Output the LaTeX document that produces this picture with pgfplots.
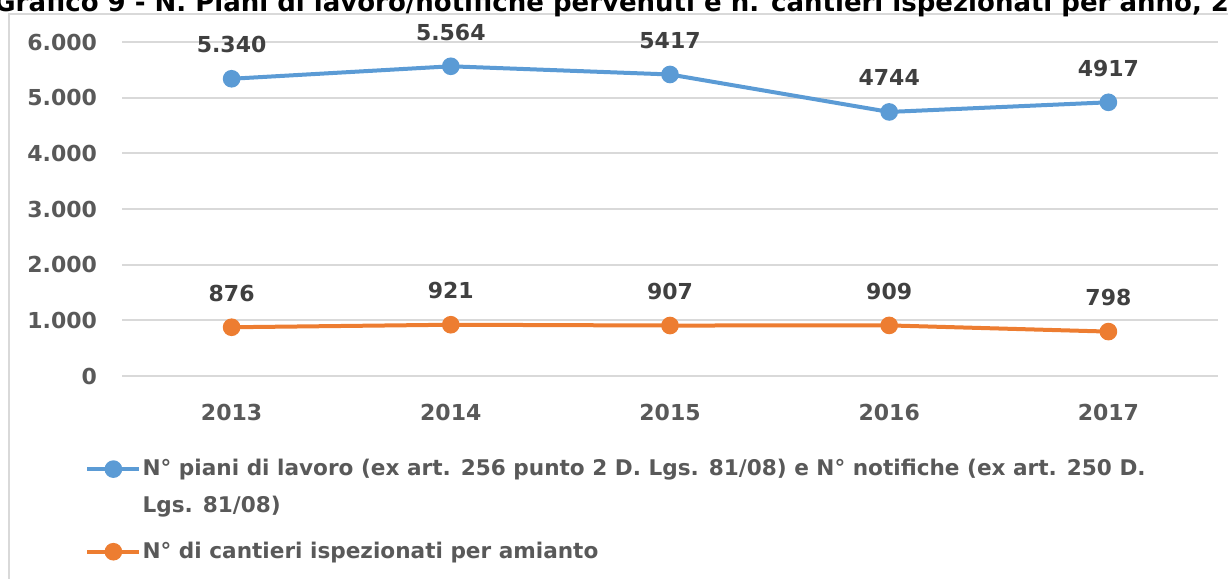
\documentclass[border=0pt]{standalone}
\usepackage{pgfplots}
\pgfplotsset{compat=1.18}
\usepackage{fontspec}
\setmainfont{DejaVu Sans}
\definecolor{sblue}{HTML}{5B9BD5}
\definecolor{sorange}{HTML}{ED7D31}
\definecolor{gridgray}{HTML}{D9D9D9}
\definecolor{tickgray}{HTML}{595959}
\definecolor{labgray}{HTML}{404040}
\begin{document}
\begin{tikzpicture}
\useasboundingbox (0,0) rectangle (614pt,-289.5pt);
\draw[gridgray, line width=0.8pt] (4.5pt,-7pt) rectangle (640pt,-320pt);
\node[anchor=base west, inner sep=0pt, font=\bfseries\fontsize{13}{15}\selectfont] at (-3pt,-5.5pt)
  {Grafico 9 - N. Piani di lavoro/notifiche pervenuti e n. cantieri ispezionati per anno, 2013-2017};
\begin{axis}[
  at={(61pt,-188pt)}, anchor=south west,
  scale only axis, width=548pt, height=167pt,
  xmin=-0.5, xmax=4.5, ymin=0, ymax=6000,
  xtick={0,1,2,3,4}, xticklabels={2013,2014,2015,2016,2017},
  ytick={0,1000,2000,3000,4000,5000,6000},
  axis line style={draw=none},
  major tick length=0pt,
  ymajorgrids, grid style={gridgray, line width=0.9pt},
  /pgf/number format/.cd, 1000 sep={.}, assume math mode=true, /pgfplots/.cd,
  ticklabel style={font=\bfseries\fontsize{11}{13}\selectfont, text=tickgray},
  xticklabel style={yshift=-10.5pt},
  yticklabel style={xshift=-9pt},
  clip=false,
  point meta=explicit symbolic,
  nodes near coords,
  every node near coord/.append style={anchor=center, yshift=17pt, font=\bfseries\fontsize{11}{13}\selectfont, text=labgray},
  legend style={at={(0,0)}, anchor=north west, xshift=-21.5pt, yshift=-39pt, draw=none, fill=none,
    font=\bfseries\fontsize{10.8}{18.5}\selectfont, text=tickgray, row sep=30.5pt,
    nodes={inner sep=0.6pt}},
  legend cell align=left,
  legend image code/.code={\draw[mark repeat=2,mark phase=2,#1] plot coordinates {(0pt,0pt)(13pt,0pt)(26pt,0pt)};},
]
\addplot[sblue, line width=2pt, mark=*, mark size=3.4pt] coordinates {
 (0,5340) [5.340] (1,5564) [5.564] (2,5417) [5417] (3,4744) [4744] (4,4917) [4917]};
\addlegendentry{\raisebox{0pt}[8pt][2.5pt]{\parbox[t]{560pt}{N° piani di lavoro (ex art. 256 punto 2 D. Lgs. 81/08) e N° notifiche (ex art. 250 D.\\Lgs. 81/08)}}}
\addplot[sorange, line width=2pt, mark=*, mark size=3.4pt] coordinates {
 (0,876) [876] (1,921) [921] (2,907) [907] (3,909) [909] (4,798) [798]};
\addlegendentry{N° di cantieri ispezionati per amianto}
\end{axis}
\end{tikzpicture}
\end{document}
